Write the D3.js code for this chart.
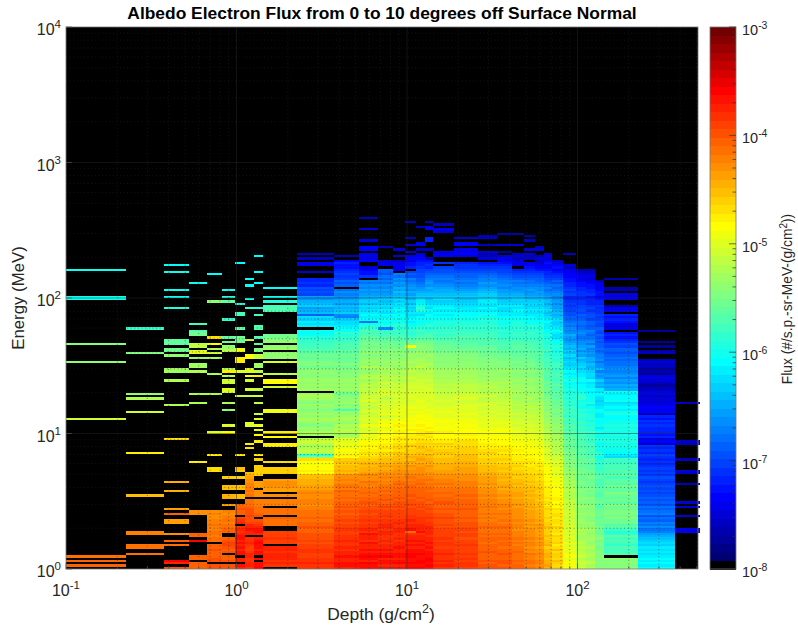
<!DOCTYPE html>
<html><head><meta charset="utf-8">
<script src="https://cdnjs.cloudflare.com/ajax/libs/d3/7.8.5/d3.min.js"></script>
<style>html,body{margin:0;padding:0;background:#fff}svg{display:block}text{font-family:"Liberation Sans",Arial,sans-serif;fill:#262626}</style>
</head><body><svg id="c" width="798" height="630"></svg>
<script>
// depth bin edges (g/cm2)
const depthEdges=[0.1,0.225,0.375,0.525,0.675,0.825,0.975,1.125,1.275,1.425,2.25,3.75,5.25,6.75,8.25,9.75,11.25,12.75,14.25,18.75,26.25,33.75,41.25,48.75,56.25,63.75,71.25,82.5,97.5,112.5,127.5,142.5,225,375,525];
const rowsPerDecade=60;
const levelCount=64;
const levelChars="0123456789abcdefghijklmnopqrstuvwxyzABCDEFGHIJKLMNOPQRSTUVWXYZ+/";
// one entry per depth bin; "row:levels" runs going up in energy, levels
const fluxColumns=[
"132:p 119:pp 99:w 91:x 66:B 5:N 3:O 1:O",
"106:r 95:w 77:y 75:z 69:B 51:F 32:I 15:MM 9:NN 6:N",
"134:o 131:p 123:p 120:p 115:q 99:uuu 97:v 96:v 94:x 87:yy 83:z 72:z 57:G 38:J 34:J 26:K 24:O 20:KK 15:L 12:O 10:N 3:U 2:S 0:P",
"126:p 108:s 105:t 103:vv 98:AA 95:CC 93:x 89:yy 87:z 77:z 73:z 47:F 25:L 24:L 14:OO 12:U 4:OO 0:OOO",
"130:o 118:x 102:G 99:E 97:z 95:B 93:y 86:z 77:z 60:C 50:F 43:GG 12:NNMNNMMNMMLLML 3:PPOOOPOO 0:PP",
"123:p 120:q 118:u 110:r 102:u 100:v 98:x 97:y 96:A 88:z 87:F 85:A 82:BB 78:CC 73:z 70:x 63:C 60:E 40:H 35:II 31:JJ 28:K 16:OONNMNMMLM 7:POPQQPO 3:POO 0:PP",
"135:o 117:q 113:s 112:s 106:u 100:vvv 96:DD 91:FFF 87:C 76:A 50:F 44:I 43:H 40:H 35:II 31:II 24:OOPOO 20:SRQ 6:TTSTSTSTTSRSR 3:SS 0:ST",
"128:p 125:o 119:p 115:r 101:A 93:EE 87:CC 85:E 83:B 79:B 76:A 63:CC 55:F 53:G 32:NMNMMMLLKJI 15:SSTSSQPPQPPPONNN 0:RSSRRSSRQQRSRR",
"138:o 131:o 126:o 115:q 112:s 106:tt 102:t 99:u 96:ww 93:AA 89:yy 87:A 85:F 79:A 76:B 73:A 68:B 66:C 63:D 61:D 59:E 56:F 50:F 48:H 41:HHHHH 36:KKK 32:LLL 23:PONNNMMM 15:STTSRQP 6:TTSTTUTS 4:T 0:UTT",
"124:o 120:p 118:q 116:s 114:tt 102:vv 100:xx 98:x 97:y 93:xxx 91:C 86:A 82:EE 80:B 69:DD 60:F 58:E 54:FF 47:G 42:HHH 34:KKLLLK 32:L 28:MMM 24:NNN 19:NNNO 11:QQRQQQ 1:RSRSSSRSS",
"0:RRSRRQQRR 9:QQPQPPP 16:OOPOONONN 25:NMMLMMLLML 35:KKJJJII 42:EFEEDEG 49:wr 51:zAzyABz 59:yzxywxyzxyxwxywxyzy 79:yxyxyxwxxwvwwvuvu 96:ttssrrq 103:pop 107:nmnlm 112:e 113:kjilkjhi 121:cdcd 125:abaa 131:6 134:77 137:5 139:5",
"0:STTSSTSSRSRRSRRQ 16:QRQQPQPPO 25:POPOONONNO 35:MNMLMLL 42:IJIIHIH 49:EFDEDCDCC 58:zyzAyzxyzyxy 70:s 71:xwyxxwvw 79:yxyxyxwxwwvwvvuvuuttt 100:srrqr 105:po 107:nmml 111:gh 113:lkjki 118:jihghf 125:edecbcb 132:a9 134:9a8 138:5",
"0:TTUSTUTSTSSTRSST 16:RSRRQRQQP 25:QPPOPOONON 35:NMMNLLM 42:KJJIJIH 49:GFGFEFEED 58:CDCBCDBCCBACBABACBBAA 79:AzAzyAzyxyzxyxxwxwwvw 100:vuutstrqp 109:f 110:ononmlmklkj 121:ihighfg 129:b998 133:6 136:8787 141:88 145:6 150:6 155:5",
"0:TSTTSUTSTSSRSRRS 16:SRSSRRQRQ 25:QPQPOPOONO 35:NNMMLML 42:LKJKJII 49:HGHFGFFEF 58:EDEDCEDDCBDCCBCBBABCB 79:BAABzAzzyzyxyxxwxwwvw 100:uutssr 106:h 107:qpopnomnlmlklj 121:ihighfgefde 132:e 134:776 142:4",
"0:TSUTSTTSSTSSRSRR 16:SSRRSRQQQ 25:QPQPPOPOOO 35:ONONMML 42:LLKKJJI 49:IHIGHGGFG 58:FEFDEFEDDCDCDCCBCBCBB 79:BABAzAzyzyxyyxxwxwwvv 100:uttsrsqrqp 110:popnonmnlmk 121:jkijhighfg 132:8787 136:5 138:6 141:6",
"0:UTUTTUUTTSTSTSSR 16:N 17:TSSRSRRQ 25:QQPQPPOPOO 35:OONNMNM 42:LLKLJKI 49:JIHHGIGFG 58:FFEFEDEDEDCDCDCCBCCBC 79:BCBBABAzAzzyzyxyxwwEv 100:utsrqr 106:qpononm 113:nmlmklj 120:kijhihgfgde 131:c 133:a99 136:787 140:6 143:6 146:5 153:5",
"0:UTUUTTUTTSTSTSSR 16:TSSSRRRQQ 25:QPQPPOPOOO 35:ONONNMM 42:LLLKKJK 49:JIIHIHHGG 58:FGFFEFEEDEDDCDCCDCBCC 79:BCBBBAAAzzAzyzyxyxwxw 100:vutsrsrqp 109:opomn 114:qrponml 121:kjihg 126:feeddccbaa 136:9876 141:5 143:77 151:5",
"0:TUTUUTTTSTSTSSRS 16:SSSRRQRQQ 25:PQPPOPOOON 35:ONNMNML 42:LKKLJKJ 49:IJHIHGHGF 58:GFGEFEEDEDDCDCCCBCCBB 79:CBBABAAzAzyzyyxyxwxww 100:vuttsrqrqp 110:popnomnmlkl 121:kjijhihgfed 132:caba9 137:5 141:5 145:aa 150:77 153:5",
"0:RSRSRRSRRQRRQRQQ 16:QQPQPPQPP 25:OPOOPOONON 35:NMNMMLL 42:KKJJJII 49:HHIHGGHFF 58:EEFDEDDEDCCDCCBBCBBAA 79:AzAzzyzyyyxxwxxwwvvvu 100:utsrsrrqq 109:qponononmlml 121:kjjihgfgfed 132:dc 135:b 138:877 149:67 152:5",
"0:QRRQRQRQQQRQQPQQ 16:PQPPPOPOO 25:OPOOOONONN 35:NMMMLLL 42:KKKJJJI 49:IIHHHGGGF 58:EFEEDEDDDCDCCCCBBCBBA 79:AAAzzyzyyyxxxwxwwvvuu 100:tttssrrrq 109:qppoonnmmlkl 121:kjihgfg 128:feedcbba 138:7877 143:88 146:6",
"0:PPOPOOOPOOONOONO 16:NNONNMNMN 25:MMNMMMLMLL 35:LKLKKKJ 42:JIIIHHH 49:GGHGFFFEE 58:EDEDDCDCCCBCBBCBAABAz 79:zAzzyyxyxxwxwwwvvuvut 100:ttsssrrrq 109:qqpponomnnml 121:lkjihig 128:gfedcba9 137:6546 143:5 146:54",
"0:POPPOOPOONOONONO 16:NNONMNMMN 25:MLMMLLKLKK 35:JKJJIJI 42:IHIHHGH 49:GGFGFFEEE 58:EDDEDCDCCBCBBBABAAzAz 79:zzyzyyxxyxwwxvvvuuttt 100:ssrrqrqqp 109:pponnmmnmlkk 121:jiighgg 128:fedccba9 136:876 140:3 143:6 148:4",
"0:OONONNNONNMNMNMM 16:MLMMLMLLL 25:LLKLKKJKKJ 35:JIJIIHI 42:HHGHGGF 49:FFEFEEEDD 58:DCDCCBCBBABAAzAzzyzyz 79:yyyxyxxwxwwvwvvuutuut 100:tsrsrqrqq 109:qponnomnmllk 121:jihhgfg 128:edcba 134:776565 143:6 148:4",
"0:NMNNMMNLMLMMLMLL 16:LLKLKLKKK 25:KJKJJJIJIJ 35:IIHIHHH 42:GGGFFGF 49:EFEEDEDDD 58:CDCCBCBBABAAzAzzyzyyx 79:yyxxyxwwxwvwvvuuututt 100:ssrrsqqrp 109:poonmnmlmlkj 121:ihihgff 128:edcba9 134:87 137:55 139:6 141:6 145:5 147:4",
"0:MLMMLLMLLKLLKLKK 16:KKKLJKJJJ 25:JIJIIHIIHH 35:IHHHGGH 42:GGFGFFE 49:EEDEDDCDC 58:CBCBBBABAAzAzzyzyxyyx 79:xxxwxwwvwvvuutututtss 100:srrrqrqqp 109:ponnmnmlmlkj 121:iihhgfe 128:edcb987 135:6565 141:6 142:5",
"0:JKJJIJJIIHJIIHIH 16:HHIHHGHGG 25:GHGFGFGFFF 35:FFEFEEE 42:EDEDDDC 49:CCBCBBBAA 58:AzAzyzyyyxyxwxwxwwvvu 79:vvuvuttututsstsrrsrrq 100:qrpqpoonn 109:onmlkmlkjkji 121:hgfgfed 128:cbaa98 134:8976 138:76",
"0:HGHIGHHGIGFHGGHF 16:GGHFGGFGG 25:FGEFEFFEEE 35:EDEDDDC 42:CCDBCCB 49:BAAzAzzzy 58:zyyxyxxwxwvwwvvuvutuu 79:ttutssttsrssrqrqqpqqp 100:pommnonml 109:lmkjkjiihihg 121:hgfefde 128:cba98987 136:5",
"0:EDEDCEDCDCCDBCCB 16:CBCBBBABB 25:BAABAAzzzA 35:zzyzyyx 42:yxxwxww 49:wvwvvuuvu 58:utusutsstrssrsqrrqrqp 79:qppoqoononmlmlkmkljkj 100:ihijhghfg 109:feeddccbcbaa 121:cbcbaa99 129:887756 139:5",
"0:BABAzBAAzAzAzyyz 16:yzyxyyxxy 25:xxyxwxxwwx 35:wvwwvvv 42:wvvuvvu 49:uututtttt 58:stsrsrsrqrrqrpqqprrqp 79:poonponnmlmlkjlijhjih 100:hgfghgfef 109:fedecdccbbaa 121:bbaa 125:9987 129:765 132:4",
"0:zyAzyzzyyzyxyyyx 16:yyxxywwxx 25:xwxwwwxvwv 35:wvvvuwv 42:uvuutuu 49:ttstsstrs 58:rrsqrqrpqqqpqpnqppoon 79:onnmolmmlkjkijjhihgif 100:hgfefgede 109:ecddcbcbaaa9 121:baa998 127:767654",
"0:xwxwxwwxwvwwvxwv 16:vvwuvvuvv 25:vutuvuuttu 35:utstsut 42:ssrsqrq 49:pqrpqpoqq 58:ppqonpoopnnopnmmlmnom 79:njkjlihigkhhfhggfefee 100:dedecdecc 109:dcbcbbabaa98 121:998877 127:4",
"0:xwxwx 6:tsstrstsur 16:qsutvvwvw 25:wvvwuvuvwu 35:uvtuusu 42:ttstsrs 49:mnoppqpqq 58:pqpqpqppooqpnonmpoonp 79:jijhigihghgffefedeecd 100:ba9a9 106:767 109:9a9a 114:77 116:4 119:777 123:4 124:4 128:4",
"0:onononm 7:nmnlmlkji 16:gfhfgefdg 25:fefdededcd 35:cdcbcdbcbc 45:bababcabab 55:587 58:a9a 61:aabab9a 68:4 69:8787 73:666576 79:543 82:5676 86:343 89:5565 95:54 98:3 100:3 105:3",
"73:5 55:55 48:5 43:6 42:5 37:5 29:6 27:6 23:6 16:77"
];
const xTickExps=[-1,0,1,2];
const yTickExps=[0,1,2,3,4];
const cTickExps=[-8,-7,-6,-5,-4,-3];
const titleText="Albedo Electron Flux from 0 to 10 degrees off Surface Normal";

const L=66,R=698,T=27,B=569;
const svg=d3.select("#c");
const x=d3.scaleLog().domain([0.1,Math.pow(10,(R-L)/170.5-1)]).range([L,R]);
const y=d3.scaleLog().domain([1,1e4]).range([B,T]);
const fluxToLevel=d3.scaleLog().domain([1e-8,1e-3]).range([0,levelCount]);
// jet map, first level black
const r=d3.scaleLinear().domain([0,1,8,24,40,56,63]).range([0,0,0,0,1,1,0.45]);
const g=d3.scaleLinear().domain([0,1,8,24,40,56,63]).range([0,0,0,1,1,0,0]);
const b=d3.scaleLinear().domain([0,1,8,24,40,56,63]).range([0,0.45,1,1,0,0,0]);
const levelColor=k=>k<1?"#000":d3.rgb(r(k)*255,g(k)*255,b(k)*255).formatHex();
const fluxColor=f=>levelColor(Math.min(levelCount-1,Math.floor(fluxToLevel(f))));
const levelFlux=k=>fluxToLevel.invert(k+0.5);

const cells=[];
fluxColumns.forEach((col,c)=>{col.split(" ").forEach(tok=>{
  const [s,chars]=tok.split(":");
  [...chars].forEach((ch,i)=>{ if(ch===".")return;
    const row=+s+i;
    cells.push({d0:depthEdges[c],d1:depthEdges[c+1],e0:Math.pow(10,row/rowsPerDecade),e1:Math.pow(10,(row+1)/rowsPerDecade),flux:levelFlux(levelChars.indexOf(ch))});
  });
});});

const defs=svg.append("defs");
defs.append("filter").attr("id","soft").attr("x",0).attr("y",0).attr("width",1).attr("height",1)
  .append("feGaussianBlur").attr("stdDeviation",0.35);
svg.append("rect").attr("x",L).attr("y",T).attr("width",R-L).attr("height",B-T).attr("fill","#000");
svg.append("g").attr("filter","url(#soft)").attr("shape-rendering","crispEdges").selectAll("rect").data(cells).join("rect")
  .attr("x",d=>x(d.d0)).attr("width",d=>x(d.d1)-x(d.d0))
  .attr("y",d=>y(d.e1)).attr("height",d=>y(d.e0)-y(d.e1))
  .attr("fill",d=>fluxColor(d.flux));

// grid
const minorVals=(lo,hi)=>{const o=[];for(let e=lo;e<hi;e++)for(let m=2;m<=9;m++)o.push(m*Math.pow(10,e));return o;};
const xMinor=minorVals(-1,3).filter(v=>v<x.domain()[1]);
const yMinor=minorVals(0,4);
const grid=svg.append("g").attr("stroke","#262626").attr("fill","none");
const gm=grid.append("g").attr("stroke-dasharray","1,2.6").attr("stroke-opacity",0.65).attr("stroke-width",0.8);
gm.selectAll(".v").data(xMinor).join("line").attr("class","v").attr("x1",d=>x(d)).attr("x2",d=>x(d)).attr("y1",T).attr("y2",B);
gm.selectAll(".h").data(yMinor).join("line").attr("class","h").attr("y1",d=>y(d)).attr("y2",d=>y(d)).attr("x1",L).attr("x2",R);
const gM=grid.append("g").attr("stroke-opacity",0.6).attr("stroke-width",0.8);
gM.selectAll(".v").data(xTickExps.slice(1)).join("line").attr("class","v").attr("x1",d=>x(Math.pow(10,d))).attr("x2",d=>x(Math.pow(10,d))).attr("y1",T).attr("y2",B);
gM.selectAll(".h").data(yTickExps.slice(1,-1)).join("line").attr("class","h").attr("y1",d=>y(Math.pow(10,d))).attr("y2",d=>y(Math.pow(10,d))).attr("x1",L).attr("x2",R);

// box and ticks
svg.append("rect").attr("x",L).attr("y",T).attr("width",R-L).attr("height",B-T).attr("fill","none").attr("stroke","#777").attr("stroke-width",0.8);
const ticks=svg.append("g").attr("stroke","#555").attr("stroke-width",0.7);
xTickExps.forEach(e=>{ticks.append("line").attr("x1",x(10**e)).attr("x2",x(10**e)).attr("y1",B).attr("y2",B-6);});
xMinor.forEach(v=>{ticks.append("line").attr("x1",x(v)).attr("x2",x(v)).attr("y1",B).attr("y2",B-3);});
yTickExps.forEach(e=>{ticks.append("line").attr("y1",y(10**e)).attr("y2",y(10**e)).attr("x1",L).attr("x2",L+6);});

function pow10(sel,px,py,e,anchor,size){
  const t=sel.append("text").attr("x",px).attr("y",py).attr("text-anchor",anchor).attr("font-size",size);
  t.append("tspan").text("10");
  t.append("tspan").attr("dy",-size*0.42).attr("font-size",size*0.72).text(e);
  return t;
}
const labels=svg.append("g");
xTickExps.forEach(e=>pow10(labels,x(10**e),596,e,"middle",16));
yTickExps.forEach(e=>pow10(labels,L-5,y(10**e)+8,e,"end",16));

svg.append("text").attr("x",382).attr("y",19).attr("text-anchor","middle").attr("font-size",17.4).attr("font-weight","bold").style("fill","#000").text(titleText);
const xl=svg.append("text").attr("x",381).attr("y",620).attr("text-anchor","middle").attr("font-size",17.4);
xl.append("tspan").text("Depth (g/cm");xl.append("tspan").attr("dy",-7).attr("font-size",12.5).text("2");xl.append("tspan").attr("dy",7).text(")");
svg.append("text").attr("transform","translate(24,298) rotate(-90)").attr("text-anchor","middle").attr("font-size",16.8).text("Energy (MeV)");

// colour bar
const CL=710,CR=736;
const cy=d3.scaleLog().domain([1e-8,1e-3]).range([B,T]);
const levels=d3.range(levelCount);
svg.append("g").attr("shape-rendering","crispEdges").selectAll("rect").data(levels).join("rect")
  .attr("x",CL).attr("width",CR-CL)
  .attr("y",k=>cy(fluxToLevel.invert(k+1))).attr("height",k=>cy(fluxToLevel.invert(k))-cy(fluxToLevel.invert(k+1))+0.5)
  .attr("fill",k=>fluxColor(levelFlux(k)));
svg.append("rect").attr("x",CL).attr("y",T).attr("width",CR-CL).attr("height",B-T).attr("fill","none").attr("stroke","#777").attr("stroke-width",0.8);
const ct=svg.append("g").attr("stroke","#333").attr("stroke-width",0.7);
cTickExps.forEach(e=>ct.append("line").attr("x1",CR-7).attr("x2",CR).attr("y1",cy(10**e)).attr("y2",cy(10**e)));
minorVals(-8,-3).forEach(v=>ct.append("line").attr("x1",CR-3.5).attr("x2",CR).attr("y1",cy(v)).attr("y2",cy(v)));
cTickExps.forEach(e=>pow10(labels,742,cy(10**e)+8,e,"start",14.5));
const cl=svg.append("text").attr("transform","translate(792,299) rotate(-90)").attr("text-anchor","middle").attr("font-size",13.8);
cl.append("tspan").text("Flux (#/s.p.-sr-MeV-(g/cm");cl.append("tspan").attr("dy",-5).attr("font-size",10).text("2");cl.append("tspan").attr("dy",5).text("))");
</script></body></html>
